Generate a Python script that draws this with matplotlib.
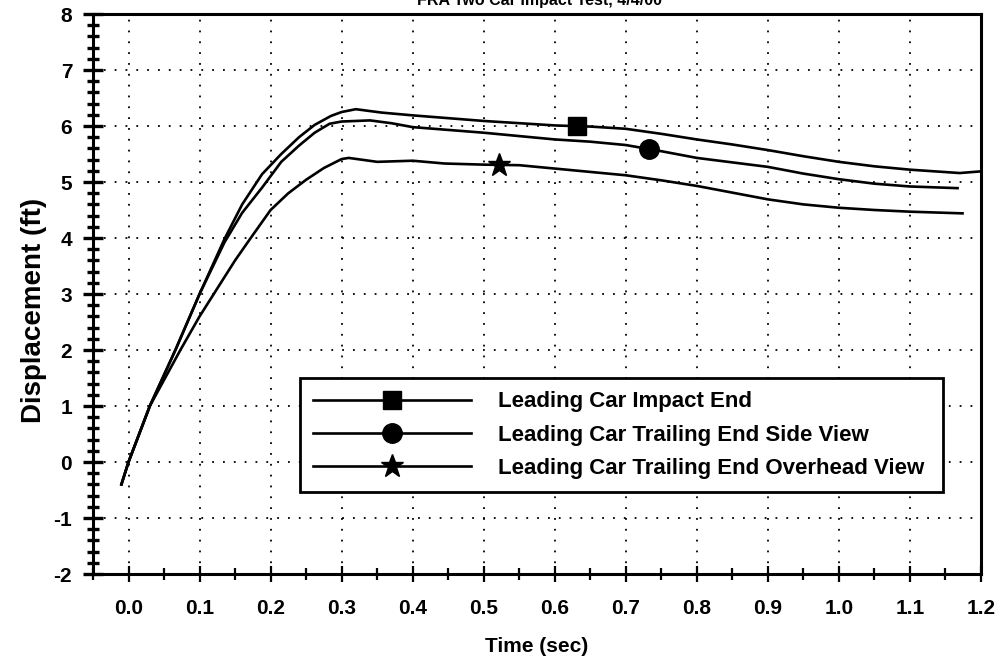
import numpy as np
import matplotlib
matplotlib.use("Agg")
import matplotlib.pyplot as plt
from matplotlib.ticker import MultipleLocator, FormatStrFormatter

plt.rcParams['font.family'] = ['Liberation Sans', 'DejaVu Sans']
plt.rcParams['font.weight'] = 'bold'

title = "FRA Two Car Impact Test, 4/4/00"
x_label = "Time (sec)"
y_label = "Displacement (ft)"

series_labels = ["Leading Car Impact End",
                 "Leading Car Trailing End Side View",
                 "Leading Car Trailing End Overhead View"]

impact_t = [-0.01, 0.0, 0.03, 0.066, 0.1, 0.135, 0.16, 0.188, 0.215, 0.24, 0.262, 0.285,
            0.3, 0.32, 0.356, 0.4, 0.45, 0.5, 0.563, 0.6, 0.65, 0.7, 0.75, 0.8, 0.85,
            0.9, 0.95, 1.0, 1.05, 1.1, 1.17, 1.2]
impact_y = [-0.4, 0.0, 1.0, 2.0, 3.0, 3.98, 4.6, 5.14, 5.5, 5.8, 6.02, 6.18,
            6.25, 6.3, 6.24, 6.19, 6.14, 6.09, 6.04, 6.01, 5.99, 5.95, 5.86, 5.76, 5.67,
            5.57, 5.46, 5.36, 5.28, 5.22, 5.16, 5.19]

side_t = [-0.01, 0.0, 0.03, 0.066, 0.1, 0.135, 0.16, 0.188, 0.215, 0.24, 0.262, 0.283,
          0.3, 0.34, 0.37, 0.4, 0.45, 0.5, 0.55, 0.6, 0.65, 0.7, 0.75, 0.8, 0.85,
          0.9, 0.95, 1.0, 1.05, 1.1, 1.167]
side_y = [-0.4, 0.0, 1.0, 2.0, 3.0, 3.92, 4.45, 4.9, 5.36, 5.65, 5.88, 6.04,
          6.08, 6.1, 6.05, 5.98, 5.93, 5.88, 5.82, 5.76, 5.72, 5.66, 5.55, 5.43, 5.35,
          5.27, 5.15, 5.05, 4.97, 4.92, 4.89]

overhead_t = [-0.01, 0.0, 0.03, 0.073, 0.1, 0.125, 0.15, 0.172, 0.2, 0.225, 0.25, 0.275,
              0.3, 0.31, 0.35, 0.4, 0.445, 0.5, 0.55, 0.6, 0.65, 0.7, 0.75, 0.8, 0.85,
              0.9, 0.95, 1.0, 1.05, 1.1, 1.174]
overhead_y = [-0.4, 0.0, 1.0, 2.0, 2.6, 3.1, 3.6, 4.0, 4.5, 4.8, 5.04, 5.25,
              5.41, 5.43, 5.36, 5.38, 5.33, 5.31, 5.3, 5.24, 5.18, 5.12, 5.03, 4.93, 4.81,
              4.69, 4.6, 4.54, 4.5, 4.47, 4.44]

marker_t = [0.631, 0.733, 0.521]
markers = ['s', 'o', '*']
marker_sizes = [13.5, 14, 17]

fig = plt.figure(figsize=(10.05, 6.65), dpi=100)
ax = fig.add_axes([93/1005, 1 - 574/665, (981-93)/1005, (574-14)/665])

series = [(impact_t, impact_y), (side_t, side_y), (overhead_t, overhead_y)]
handles = []
for (t, y), lab, mk, ms, mt in zip(series, series_labels, markers, marker_sizes, marker_t):
    ax.plot(t, y, color='black', lw=1.9, zorder=3)
    my = np.interp(mt, t, y)
    ax.plot([mt], [my], linestyle='none', marker=mk, ms=ms, color='black', zorder=4)
    h, = ax.plot([], [], color='black', lw=1.9, marker=mk, ms=ms, label=lab)
    handles.append(h)

ax.set_xlim(-0.05, 1.2)
ax.set_ylim(-2, 8)
ax.xaxis.set_major_locator(MultipleLocator(0.1))
ax.xaxis.set_minor_locator(MultipleLocator(0.05))
ax.yaxis.set_major_locator(MultipleLocator(1))
ax.yaxis.set_minor_locator(MultipleLocator(0.2))
ax.xaxis.set_major_formatter(FormatStrFormatter('%.1f'))
ax.yaxis.set_major_formatter(FormatStrFormatter('%d'))

ax.grid(True, which='major', color='black', linestyle=(0, (1, 5)), lw=1.3)
for s in ax.spines.values():
    s.set_linewidth(2.2)

ax.tick_params(axis='y', which='major', direction='inout', length=14, width=2.4, pad=8, labelsize=15)
ax.tick_params(axis='y', which='minor', direction='inout', length=9, width=2.4)
ax.tick_params(axis='x', which='major', direction='inout', length=12, width=1.6, pad=12, labelsize=15)
ax.tick_params(axis='x', which='minor', direction='inout', length=9, width=1.6)
for lbl in ax.get_xticklabels() + ax.get_yticklabels():
    lbl.set_fontweight('bold')

ax.set_xlabel(x_label, fontsize=15, fontweight='bold', labelpad=14)
ax.set_ylabel(y_label, fontsize=20, fontweight='bold')
ax.yaxis.set_label_coords(-0.052, 0.47)

fig.text(0.537, 1 - 1/665, title, ha='center', va='center', fontsize=11.5, fontweight='bold')

x0 = (300 - 93) / 888
x1 = (943 - 93) / 888
ytop = (574 - 378) / 560
ybot = (574 - 497) / 560
leg = ax.legend(handles=handles, loc='upper left',
                bbox_to_anchor=(x0, ybot, x1 - x0, ytop - ybot), mode='expand',
                borderaxespad=0,
                prop={'weight': 'bold', 'size': 16}, handlelength=7.1,
                handletextpad=1.2, labelspacing=0.55, borderpad=0.6,
                fancybox=False, framealpha=1, edgecolor='black')
leg.get_frame().set_linewidth(2)

fig.savefig('out.png', dpi=100)
